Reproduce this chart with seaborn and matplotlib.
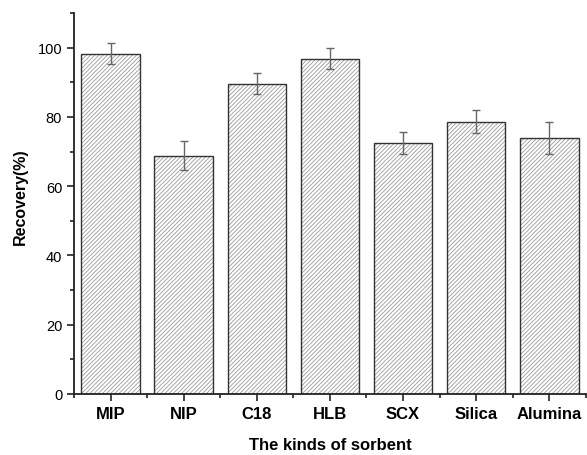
import matplotlib
matplotlib.use("Agg")
import matplotlib.pyplot as plt
import seaborn as sns
import numpy as np
from matplotlib.ticker import MultipleLocator, FixedLocator

sorbents = ["MIP", "NIP", "C18", "HLB", "SCX", "Silica", "Alumina"]
recovery = [98.3, 68.8, 89.6, 96.8, 72.4, 78.6, 73.9]
errors = [3.0, 4.2, 3.0, 3.0, 3.2, 3.3, 4.6]

sns.set_style("ticks")
plt.rcParams["font.family"] = ["Liberation Sans", "DejaVu Sans"]
plt.rcParams["hatch.linewidth"] = 0.6

fig = plt.figure(figsize=(5.87, 4.56), dpi=100)
ax = fig.add_axes([0.126, 0.134, 0.872, 0.835])

# hatch layer (hatch takes the edge colour), then the dark outline on top
sns.barplot(x=sorbents, y=recovery, color="white", width=0.8,
            edgecolor="#9a9a9a", linewidth=0, hatch="////////", ax=ax)
sns.barplot(x=sorbents, y=recovery, width=0.8, fill=False, color="#333333",
            linewidth=1.0, ax=ax)

ax.errorbar(np.arange(len(sorbents)), recovery, yerr=errors, fmt="none",
            ecolor="#666666", elinewidth=1.0, capsize=3, capthick=1.0)

ax.set_xlim(-0.5, 6.5)
ax.set_ylim(0, 110)
ax.yaxis.set_major_locator(FixedLocator([0, 20, 40, 60, 80, 100]))
ax.yaxis.set_minor_locator(MultipleLocator(10))
ax.xaxis.set_minor_locator(FixedLocator(np.arange(-0.5, 7, 1)))

ax.tick_params(axis="both", which="major", direction="out", length=5, width=1.2,
               color="#222222", labelcolor="black")
ax.tick_params(axis="both", which="minor", direction="out", length=3, width=1.2, color="#222222")
ax.tick_params(axis="y", labelsize=10.5)
ax.tick_params(axis="x", labelsize=12)
for lab in ax.get_xticklabels():
    lab.set_fontweight("bold")

for side in ["top", "right"]:
    ax.spines[side].set_visible(False)
for side in ["left", "bottom"]:
    ax.spines[side].set_linewidth(1.3)
    ax.spines[side].set_color("#222222")

ax.set_xlabel("The kinds of sorbent", fontsize=12, fontweight="bold", labelpad=12, color="black")
ax.set_ylabel("Recovery(%)", fontsize=11.5, fontweight="bold", labelpad=7, color="black")
ax.yaxis.set_label_coords(-0.09, 0.52)

fig.savefig("out.png", dpi=100)
